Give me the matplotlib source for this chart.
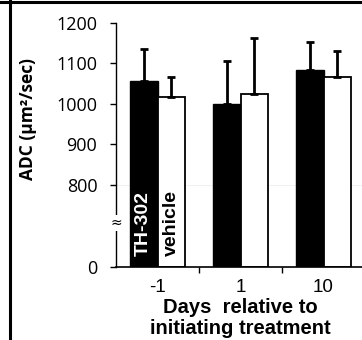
import numpy as np
import matplotlib
matplotlib.use("Agg")
import matplotlib.pyplot as plt
from matplotlib.lines import Line2D

# ---- data ----
categories = ["-1", "1", "10"]
th302_mean = [1057, 1000, 1084]
th302_err = [79, 106, 69]
vehicle_mean = [1017, 1025, 1067]
vehicle_err = [50, 138, 64]
yticks = [0, 800, 900, 1000, 1100, 1200]
series_labels = ["TH-302", "vehicle"]

# broken-axis scale: 0..800 compressed
K = 202.5 / 800.0

def fwd(v):
    v = np.asarray(v, dtype=float)
    return np.where(v >= 800, v, 800 - (800 - v) * K)

def inv(u):
    u = np.asarray(u, dtype=float)
    return np.where(u >= 800, u, 800 - (800 - u) / K)

W, H = 362, 340
fig = plt.figure(figsize=(W / 100, H / 100), dpi=100)
ax = fig.add_axes([116 / W, 73 / H, 249 / W, 244 / H])
ax.set_yscale("function", functions=(fwd, inv))

x = np.arange(len(categories))
bw = 0.335
ax.bar(x - bw / 2, th302_mean, width=bw, color="black", edgecolor="black",
       linewidth=1.0, zorder=2)
ax.bar(x + bw / 2, vehicle_mean, width=bw, color="white", edgecolor="black",
       linewidth=1.3, zorder=2)
ax.errorbar(x - bw / 2, th302_mean, yerr=[np.zeros(3), th302_err], fmt="none",
            ecolor="black", elinewidth=2, capsize=3, capthick=2, zorder=3)
ax.errorbar(x + bw / 2, vehicle_mean, yerr=[np.zeros(3), vehicle_err], fmt="none",
            ecolor="black", elinewidth=2, capsize=3, capthick=2, zorder=3)

ax.set_xlim(-0.5, 2.5)
ax.set_ylim(0, 1200)
ax.set_yticks(yticks)
ax.set_yticklabels([str(t) for t in yticks], fontfamily="Open Sans", fontsize=13)
ax.tick_params(axis="y", direction="out", length=4.5, width=1, pad=9)

ax.set_xticks(x)
ax.set_xticklabels(categories, fontfamily="Liberation Sans", fontsize=13.5)
ax.tick_params(axis="x", which="major", length=0, pad=9)
ax.set_xticks([0.5, 1.5], minor=True)
ax.tick_params(axis="x", which="minor", direction="out", length=4, width=1)

for s in ["top", "right"]:
    ax.spines[s].set_visible(False)
ax.spines["left"].set_linewidth(1)
ax.spines["bottom"].set_linewidth(1.2)

# faint line at 800
ax.axhline(800, color="#eeeeee", lw=0.6, zorder=1)

# break mark
ax.text(-0.5, 429, "\u2248", transform=ax.transData, ha="center", va="center",
        fontsize=10, family="DejaVu Sans", zorder=5,
        bbox=dict(boxstyle="square,pad=0.05", fc="white", ec="none"), clip_on=False)

# series labels inside bars
ax.annotate(series_labels[0], xy=(x[0] - bw / 2, 0), xytext=(0, 8),
            textcoords="offset points", rotation=90, ha="center", va="bottom",
            color="white", fontweight="bold", fontfamily="Liberation Sans",
            fontsize=14, zorder=5)
ax.annotate(series_labels[1], xy=(x[0] + bw / 2, 0), xytext=(0, 8),
            textcoords="offset points", rotation=90, ha="center", va="bottom",
            color="black", fontweight="bold", fontfamily="Liberation Sans",
            fontsize=14, zorder=5)

ax.set_ylabel("ADC (\u00b5m\u00b2/sec)", fontfamily="Open Sans", fontweight="bold",
              fontsize=12.5)
ax.yaxis.set_label_coords((37 - 116) / 249, (267 - 119) / 244)
ax.set_xlabel("Days  relative to\ninitiating treatment", fontfamily="Liberation Sans",
              fontweight="bold", fontsize=14.5, labelpad=1, linespacing=1.15)

# figure border lines
fig.add_artist(Line2D([0, 1], [1 - 1.5 / H, 1 - 1.5 / H], color="black", lw=2.2,
                      transform=fig.transFigure))
fig.add_artist(Line2D([10 / W, 10 / W], [0, 1], color="black", lw=2.2,
                      transform=fig.transFigure))

fig.savefig("out.png", dpi=100)
